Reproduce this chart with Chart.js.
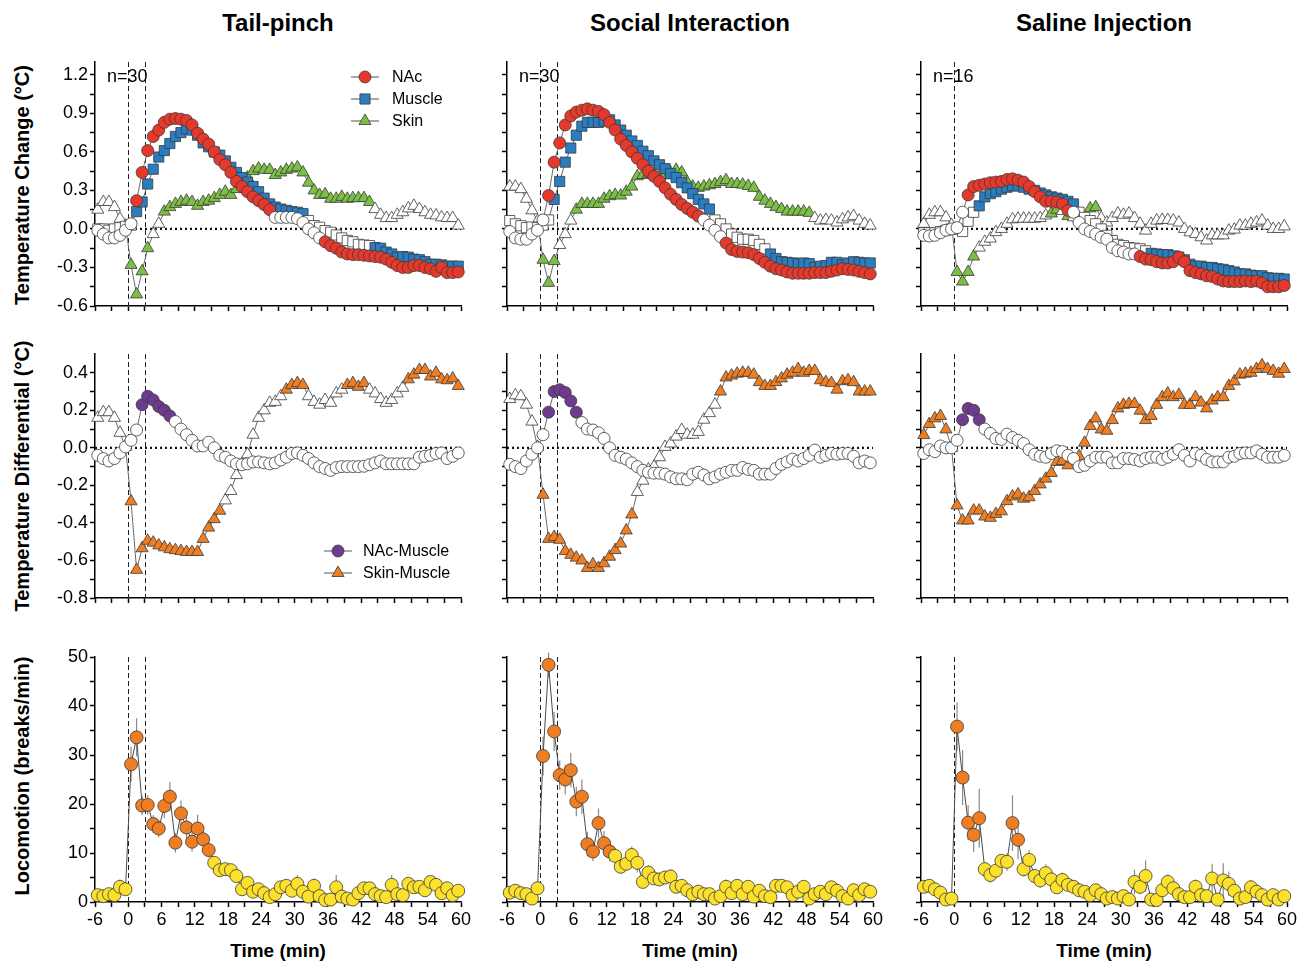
<!DOCTYPE html>
<html>
<head>
<meta charset="utf-8">
<script src="https://cdn.jsdelivr.net/npm/chart.js@4.4.1/dist/chart.umd.min.js"></script>
<style>
  html, body { margin: 0; padding: 0; background: #fff; }
  body { width: 1299px; height: 962px; position: relative; overflow: hidden;
         font-family: "Liberation Sans", Arial, Helvetica, sans-serif; color: #000; }
  canvas { position: absolute; }
  .head { position: absolute; top: 9px; font-weight: bold; font-size: 24px; line-height: 28px;
          white-space: nowrap; transform: translateX(-50%); }
  .ytitle { position: absolute; font-weight: bold; font-size: 20px; line-height: 22px; white-space: nowrap;
            transform: translate(-50%, -50%) rotate(-90deg); }
  .xtitle { position: absolute; top: 939px; font-weight: bold; font-size: 19px; line-height: 24px;
            white-space: nowrap; transform: translateX(-50%); }
</style>
</head>
<body>
<div class="head" style="left:278px">Tail-pinch</div>
<div class="head" style="left:690px">Social Interaction</div>
<div class="head" style="left:1104px">Saline Injection</div>
<div class="ytitle" style="left:22px;top:185px">Temperature Change (°C)</div>
<div class="ytitle" style="left:22px;top:476px">Temperature Differential (°C)</div>
<div class="ytitle" style="left:22px;top:776px">Locomotion (breaks/min)</div>
<div class="xtitle" style="left:278px">Time (min)</div>
<div class="xtitle" style="left:690px">Time (min)</div>
<div class="xtitle" style="left:1104px">Time (min)</div>

<script>
// ---- time bins (bin centres, minutes relative to stimulus onset) ----
const MINUTES = [-5.5,-4.5,-3.5,-2.5,-1.5,-0.5,0.5,1.5,2.5,3.5,4.5,5.5,6.5,7.5,8.5,9.5,10.5,11.5,12.5,13.5,
  14.5,15.5,16.5,17.5,18.5,19.5,20.5,21.5,22.5,23.5,24.5,25.5,26.5,27.5,28.5,29.5,30.5,31.5,32.5,33.5,
  34.5,35.5,36.5,37.5,38.5,39.5,40.5,41.5,42.5,43.5,44.5,45.5,46.5,47.5,48.5,49.5,50.5,51.5,52.5,53.5,
  54.5,55.5,56.5,57.5,58.5,59.5];

// ---- axis ticks ----
const TIME_TICKS = [-6, 0, 6, 12, 18, 24, 30, 36, 42, 48, 54, 60];
const TIME_LABELS = ['-6', '0', '6', '12', '18', '24', '30', '36', '42', '48', '54', '60'];
const TEMP_TICKS = [-0.6, -0.3, 0, 0.3, 0.6, 0.9, 1.2];
const TEMP_LABELS = ['-0.6', '-0.3', '0.0', '0.3', '0.6', '0.9', '1.2'];
const DIFF_TICKS = [-0.8, -0.6, -0.4, -0.2, 0, 0.2, 0.4];
const DIFF_LABELS = ['-0.8', '-0.6', '-0.4', '-0.2', '0.0', '0.2', '0.4'];
const LOCO_TICKS = [0, 10, 20, 30, 40, 50];
const LOCO_LABELS = ['0', '10', '20', '30', '40', '50'];

// ---- stimulus markers per condition (min) ----
const TAIL_EVENTS = [0, 3];
const SOCIAL_EVENTS = [0, 3];
const SALINE_EVENTS = [0];

// ---- temperature change (°C) ----
const tailNAc = [-0.01,-0.04,-0.07,-0.07,-0.05,-0.01,0.04,
  0.22,0.44,0.61,0.72,0.77,0.83,0.855,0.86,0.855,0.845,0.81,0.745,0.70,0.66,0.60,0.54,0.50,0.44,0.37,0.33,
  0.29,0.25,0.22,0.19,0.15,
  0.09,0.09,0.09,0.09,0.08,0.05,0.0,-0.03,-0.07,
  -0.10,-0.13,-0.15,-0.18,-0.195,-0.20,-0.20,-0.205,-0.21,-0.215,-0.22,-0.235,-0.26,-0.285,-0.30,-0.30,
  -0.285,-0.285,-0.30,-0.31,-0.33,-0.30,-0.34,-0.34,-0.335];
const tailMuscle = [0.0,0.0,-0.01,0.0,0.01,0.02,0.03,
  0.135,0.21,0.35,0.465,0.56,0.61,0.665,0.72,0.75,0.78,0.77,0.73,0.67,0.64,0.60,0.575,0.53,0.48,0.44,0.40,
  0.365,0.33,0.29,0.24,0.195,0.17,0.155,0.145,0.135,0.13,0.12,
  0.065,0.026,0.013,-0.013,-0.026,-0.047,-0.07,-0.09,-0.10,-0.12,-0.125,-0.13,
  -0.145,-0.15,-0.18,-0.195,-0.22,-0.215,-0.22,-0.235,-0.24,-0.255,-0.275,-0.275,-0.28,-0.29,-0.29,-0.29];
const tailSkin = [0.15,0.21,0.21,0.17,0.08,0.026,
  -0.28,-0.51,-0.33,-0.15,-0.04,0.04,
  0.135,0.17,0.195,0.21,0.22,0.21,0.18,0.21,0.22,0.24,0.265,0.29,0.265,0.31,0.35,0.40,0.45,0.47,0.46,0.46,
  0.42,0.44,0.46,0.47,0.48,0.44,0.36,0.30,0.265,0.27,0.235,0.235,0.25,0.235,0.24,0.24,0.24,0.21,
  0.155,0.11,0.085,0.085,0.11,0.13,0.16,0.18,0.155,0.13,0.11,0.105,0.09,0.085,0.085,0.026];

const socialNAc = [-0.02,-0.07,-0.08,-0.08,-0.04,-0.01,0.07,
  0.26,0.52,0.67,0.81,0.88,0.91,0.925,0.935,0.925,0.915,0.89,0.83,0.77,0.70,0.65,0.60,0.55,0.50,0.45,0.41,
  0.37,0.32,0.27,0.23,0.19,0.16,0.13,0.10,
  0.07,0.03,-0.01,-0.06,
  -0.11,-0.16,-0.175,-0.18,-0.185,-0.20,-0.23,-0.26,-0.29,-0.31,-0.32,-0.335,-0.345,-0.345,-0.345,-0.345,
  -0.34,-0.34,-0.34,-0.33,-0.32,-0.31,-0.315,-0.32,-0.33,-0.34,-0.35];
const socialMuscle = [0.065,0.04,0.025,0.01,0.015,0.01,0.03,
  0.07,0.23,0.37,0.52,0.63,0.73,0.80,0.83,0.83,0.83,0.84,0.85,0.81,0.77,0.73,0.685,0.65,0.605,0.57,0.53,
  0.50,0.47,0.43,0.40,0.36,0.32,0.275,0.23,0.195,0.155,
  0.07,0.04,0.0,-0.04,-0.065,-0.08,-0.08,-0.09,-0.12,-0.155,
  -0.195,-0.23,-0.255,-0.26,-0.265,-0.27,-0.265,-0.27,-0.30,-0.29,-0.285,-0.26,-0.26,-0.28,-0.265,-0.255,
  -0.26,-0.265,-0.265];
const socialSkin = [0.33,0.33,0.31,0.235,0.145,0.06,
  -0.24,-0.42,-0.25,-0.125,-0.04,0.065,
  0.15,0.195,0.195,0.195,0.195,0.235,0.255,0.265,0.26,0.29,0.33,0.41,0.42,0.43,0.43,0.41,0.42,0.44,0.46,
  0.44,0.365,0.33,0.32,0.33,0.34,0.35,0.365,0.38,0.35,0.35,0.345,0.335,0.32,0.25,0.22,0.195,0.17,0.155,
  0.135,0.135,0.135,0.135,0.125,
  0.085,0.065,0.07,0.065,0.05,0.075,0.09,0.10,0.065,0.04,0.026];

const salineNAc = [-0.05,-0.055,-0.05,-0.03,-0.01,0.0,0.01,0.13,
  0.265,0.33,0.34,0.35,0.36,0.365,0.37,0.385,0.39,0.38,0.365,0.33,0.29,0.25,0.215,0.215,0.21,0.195,0.145,
  0.13,0.05,0.0,-0.02,-0.04,-0.065,-0.08,-0.145,-0.17,-0.18,-0.195,-0.195,
  -0.215,-0.235,-0.24,-0.255,-0.265,-0.265,-0.255,-0.22,-0.255,-0.325,-0.34,-0.35,-0.365,-0.37,-0.39,
  -0.405,-0.41,-0.41,-0.41,-0.405,-0.41,-0.405,-0.42,-0.45,-0.45,-0.45,-0.44];
const salineMuscle = [-0.03,-0.03,-0.03,-0.02,-0.01,0.0,
  0.0,-0.02,0.06,0.13,0.18,
  0.25,0.275,0.29,0.31,0.325,0.335,0.335,0.325,0.31,0.30,0.28,0.265,0.25,0.24,0.23,0.215,0.195,
  0.13,0.09,0.065,0.04,0.0,-0.05,-0.09,-0.12,-0.13,-0.145,-0.15,-0.155,-0.17,
  -0.19,-0.195,-0.20,-0.20,-0.21,-0.22,-0.24,-0.275,-0.29,-0.29,-0.30,-0.30,-0.31,-0.315,-0.325,-0.335,
  -0.35,-0.35,-0.36,-0.365,-0.365,-0.38,-0.385,-0.385,-0.39];
const salineSkin = [0.04,0.11,0.13,0.13,0.09,0.03,
  -0.335,-0.41,-0.335,-0.215,-0.145,-0.10,-0.075,-0.025,0.0,0.04,0.075,0.08,0.08,0.08,0.08,0.085,0.105,
  0.12,0.15,0.14,0.10,0.09,0.075,0.04,0.16,0.17,0.085,0.05,0.085,0.12,0.11,0.12,0.085,0.04,-0.013,
  0.04,0.065,0.07,0.07,0.065,0.05,0.0,-0.026,-0.04,-0.065,-0.09,-0.05,-0.05,-0.05,-0.013,-0.005,0.026,
  0.026,0.04,0.05,0.065,0.026,0.0,0.0,0.02];

// ---- temperature differentials (°C) ----
const tailNAcMuscle = [-0.04,-0.057,-0.07,-0.057,-0.027,0.005,0.04,0.095,
  0.23,0.275,0.255,0.22,0.20,0.17,
  0.14,0.10,0.07,0.04,0.01,0.01,0.03,0.0,-0.04,-0.05,-0.07,-0.085,-0.09,-0.085,-0.075,-0.075,-0.08,
  -0.085,-0.08,-0.065,-0.05,-0.03,-0.027,-0.04,-0.057,-0.08,-0.10,-0.11,-0.12,-0.105,-0.10,-0.10,-0.10,
  -0.10,-0.098,-0.09,-0.08,-0.07,-0.085,-0.085,-0.085,-0.085,-0.085,-0.085,-0.05,-0.045,-0.04,-0.03,
  -0.027,-0.057,-0.045,-0.027];
const tailSkinMuscle = [0.16,0.19,0.19,0.16,0.08,0.005,
  -0.285,-0.65,-0.535,-0.495,-0.505,-0.52,-0.53,-0.54,-0.545,-0.55,-0.555,-0.555,-0.555,-0.485,-0.425,
  -0.38,-0.335,
  -0.28,-0.23,-0.145,-0.085,-0.035,0.07,0.16,0.20,0.24,0.245,0.275,
  0.31,0.335,0.345,0.335,
  0.275,0.245,0.23,0.255,0.24,0.29,0.31,
  0.335,0.345,0.325,0.345,
  0.31,0.29,0.26,0.24,0.255,0.29,0.32,
  0.365,0.39,0.415,0.415,0.38,0.40,0.365,0.36,0.37,0.33];

const socialNAcMuscle = [-0.088,-0.10,-0.11,-0.07,-0.034,0.0,0.07,
  0.19,0.30,0.31,0.295,0.25,0.19,
  0.135,0.10,0.095,0.08,0.05,0.0,-0.04,-0.05,-0.06,-0.08,-0.10,-0.12,-0.13,-0.135,-0.135,-0.14,-0.155,
  -0.165,-0.165,-0.17,-0.14,-0.13,-0.145,-0.165,-0.155,-0.14,-0.13,-0.12,-0.12,-0.105,-0.115,-0.12,-0.14,
  -0.14,-0.14,-0.11,-0.088,-0.075,-0.06,-0.07,-0.057,-0.04,-0.012,-0.05,-0.04,-0.03,-0.034,-0.03,-0.03,
  -0.045,-0.08,-0.07,-0.08];
const socialSkinMuscle = [0.26,0.28,0.275,0.23,0.14,0.005,
  -0.25,-0.485,-0.475,-0.49,-0.55,-0.57,-0.585,-0.60,-0.64,-0.62,-0.64,-0.615,-0.58,-0.545,-0.51,-0.44,
  -0.355,
  -0.235,-0.175,-0.115,-0.10,-0.05,0.005,0.023,0.06,0.095,0.07,0.07,0.085,0.15,0.185,0.23,
  0.30,0.375,0.385,0.395,0.40,0.40,0.39,0.35,0.33,0.33,0.35,0.37,0.39,0.40,0.42,0.40,0.41,0.41,0.36,
  0.35,0.345,0.31,0.355,0.36,0.35,0.30,0.30,0.30];

const salineNAcMuscle = [-0.03,-0.01,-0.02,0.01,0.0,0.0,0.04,
  0.15,0.21,0.20,0.15,
  0.10,0.077,0.05,0.045,0.073,0.055,0.04,0.023,-0.01,-0.034,-0.045,-0.05,-0.03,-0.016,-0.02,-0.04,
  -0.057,-0.10,-0.093,-0.07,-0.05,-0.05,-0.05,-0.08,-0.08,-0.057,-0.057,-0.062,-0.07,-0.057,-0.05,-0.05,
  -0.062,-0.05,-0.034,-0.01,-0.04,-0.07,-0.03,-0.04,-0.062,-0.075,-0.075,-0.075,-0.05,-0.045,-0.03,
  -0.027,-0.027,-0.016,-0.034,-0.05,-0.05,-0.05,-0.04];
const salineSkinMuscle = [0.068,0.127,0.157,0.17,0.098,0.0,
  -0.307,-0.387,-0.387,-0.334,-0.334,-0.366,-0.373,-0.352,-0.338,-0.284,-0.259,-0.248,-0.271,-0.263,
  -0.23,-0.195,-0.164,-0.134,-0.075,-0.07,-0.093,-0.06,-0.045,0.027,0.116,0.157,0.098,0.091,0.148,0.21,
  0.229,0.234,0.234,0.198,0.148,0.17,0.229,0.27,0.29,0.27,0.282,0.229,0.229,0.27,0.241,0.21,0.252,0.27,
  0.27,0.33,0.354,0.39,0.395,0.40,0.42,0.44,0.42,0.41,0.395,0.42];

// ---- locomotion (breaks/min), mean and SEM ----
const tailLoco = [1.4,1.2,1.6,1.4,3.1,2.6,
  28.1,33.6,19.7,19.8,15.9,15.0,19.6,21.5,12.1,18.1,15.2,12.3,15.0,12.8,10.6,
  8.0,6.5,6.7,6.5,5.3,2.6,3.9,2.1,2.6,1.8,1.0,1.6,3.0,3.3,2.3,3.7,2.1,1.1,3.3,1.2,
  0.4,0.5,3.0,1.1,0.7,0.5,1.8,2.8,2.8,1.6,1.2,1.0,3.5,1.6,1.4,3.7,3.0,3.1,2.4,4.1,
  3.5,1.8,2.8,1.4,2.3];
const tailLocoSem = [0.8,0.6,0.8,0.7,1.5,1.2,
  3.6,3.9,2.0,2.0,1.8,1.8,2.5,3.0,2.0,2.6,2.2,2.0,2.8,2.0,1.5,
  1.2,1.3,1.3,1.2,1.3,1.0,1.0,0.8,0.8,0.8,0.6,0.8,1.0,1.0,0.8,1.8,0.8,0.6,1.5,0.8,
  0.5,0.6,2.5,0.8,0.6,0.5,0.8,1.0,1.2,0.8,0.8,0.8,2.0,0.8,0.8,1.2,1.0,1.0,0.8,1.2,
  1.2,0.8,1.0,0.8,1.0];
const socialLoco = [1.9,2.3,1.8,1.6,0.7,2.8,
  29.8,48.4,34.8,25.9,25.0,26.9,20.5,21.5,11.8,10.3,16.1,12.0,10.3,
  9.4,7.2,7.8,9.6,8.0,4.1,6.0,4.8,4.6,5.0,5.2,3.1,3.3,2.4,1.6,2.1,1.6,1.6,0.7,1.2,
  3.1,1.8,3.3,1.6,3.1,1.1,2.3,1.2,1.0,3.3,3.3,3.0,1.4,2.1,3.1,0.7,1.6,2.1,1.6,3.0,
  2.3,1.2,0.7,2.4,1.4,2.6,2.1];
const socialLocoSem = [0.8,0.8,0.6,0.6,0.5,1.0,
  4.0,2.5,4.0,3.0,3.0,3.5,3.0,3.5,2.5,2.0,3.0,2.5,2.0,
  1.5,1.5,1.2,1.8,2.0,1.2,1.5,1.2,1.2,1.2,1.5,1.2,1.0,1.0,0.8,0.8,0.8,0.8,0.6,0.8,
  1.5,1.0,1.2,0.8,1.2,0.8,0.8,0.6,0.6,1.0,1.2,1.0,0.8,0.8,1.0,0.8,0.6,1.0,0.8,1.2,
  1.0,0.6,0.6,1.0,1.2,1.0,0.8];
const salineLoco = [3.1,3.3,2.6,1.9,0.5,0.7,
  35.8,25.4,16.2,13.7,17.1,
  6.7,5.5,6.4,8.4,8.2,
  16.1,12.7,
  6.7,8.6,5.3,4.4,5.9,4.6,3.0,4.5,3.5,3.1,2.4,2.1,1.4,2.4,1.6,0.7,1.0,0.7,1.2,0.5,
  4.1,3.1,5.3,0.5,0.4,2.4,4.1,2.8,1.6,1.0,1.0,3.1,1.4,1.2,4.8,0.5,4.4,3.7,2.3,0.7,
  1.0,3.0,2.1,1.4,0.5,1.4,0.5,1.2];
const salineLocoSem = [1.2,0.8,0.8,0.6,0.5,0.5,
  4.9,5.6,3.6,3.5,6.0,
  1.2,1.5,1.5,1.2,1.8,
  5.7,4.0,
  1.5,2.0,1.5,1.5,1.8,1.2,1.0,1.5,1.2,1.0,1.0,1.0,0.8,0.8,0.8,0.6,0.6,0.6,0.6,0.5,
  2.5,1.5,3.2,0.5,0.5,1.0,1.5,1.2,0.8,0.6,0.6,1.5,0.8,0.8,3.0,0.5,3.5,2.5,1.2,0.6,
  0.8,1.5,1.0,0.8,0.5,0.8,0.5,0.8];

// ---- bins that differ significantly from baseline (filled markers), as [from, to] minutes ----
const tailNAcSig = [[1.5, 25.5], [35.5, 59.5]];
const tailMuscleSig = [[1.5, 31.5], [44.5, 59.5]];
const tailSkinSig = [[0.5, 3.5], [6.5, 43.5]];
const socialNAcSig = [[1.5, 28.5], [33.5, 59.5]];
const socialMuscleSig = [[2.5, 30.5], [41.5, 59.5]];
const socialSkinSig = [[0.5, 2.5], [6.5, 48.5]];
const salineNAcSig = [[2.5, 20.5], [33.5, 59.5]];
const salineMuscleSig = [[4.5, 21.5], [35.5, 59.5]];
const salineSkinSig = [[0.5, 3.5], [17.5, 18.5], [20.5, 20.5], [24.5, 25.5]];
const tailNAcMuscleSig = [[2.5, 7.5]];
const tailSkinMuscleSig = [[0.5, 16.5], [28.5, 31.5], [39.5, 42.5], [50.5, 59.5]];
const socialNAcMuscleSig = [[1.5, 6.5]];
const socialSkinMuscleSig = [[0.5, 16.5], [32.5, 59.5]];
const salineNAcMuscleSig = [[1.5, 4.5]];
const salineSkinMuscleSig = [[-5.5, 59.5]];
const tailLocoSig = [[0.5, 14.5]];
const socialLocoSig = [[0.5, 12.5]];
const salineLocoSig = [[0.5, 4.5], [10.5, 11.5]];

// ---- colours ----
const C_NAC = '#E6392C', C_MUSCLE = '#2A7DC1', C_SKIN = '#7CBF45';
const C_NACMUS = '#6E3B8E', C_SKINMUS = '#EF7E22';
const C_LOCO_HI = '#EF7E22', C_LOCO_LO = '#FCE12C';

// ---------------------------------------------------------------------------
const FONT = '"Liberation Sans", Arial, Helvetica, sans-serif';

function inRanges(ranges) {
  return t => ranges.some(([a, b]) => t >= a - 1e-6 && t <= b + 1e-6);
}

function series(values, sig, color, style, radius, lowColor) {
  const isSig = inRanges(sig);
  return {
    data: values.map((v, i) => ({ x: MINUTES[i], y: v })),
    showLine: true,
    borderColor: '#6a6a6a',
    borderWidth: 1,
    tension: 0,
    pointStyle: style,
    pointRadius: radius,
    pointHoverRadius: radius,
    pointBorderWidth: 0.8,
    pointBorderColor: '#3a3a3a',
    pointBackgroundColor: MINUTES.map(t => (isSig(t) ? color : (lowColor || '#ffffff'))),
    clip: false
  };
}

function withMinors(majors) {
  const out = [];
  majors.forEach((m, i) => {
    out.push(m);
    if (i < majors.length - 1) out.push((m + majors[i + 1]) / 2);
  });
  return out;
}

function labelFor(majors, labels) {
  return v => {
    const k = majors.findIndex(m => Math.abs(m - v) < 1e-6);
    return k >= 0 ? labels[k] : '';
  };
}

function drawMarker(ctx, style, x, y, r, fill) {
  ctx.beginPath();
  if (style === 'circle') {
    ctx.arc(x, y, r, 0, Math.PI * 2);
  } else if (style === 'rect') {
    const s = r * Math.SQRT1_2;
    ctx.rect(x - s, y - s, 2 * s, 2 * s);
  } else {
    const w = r * Math.sin(Math.PI * 2 / 3);
    ctx.moveTo(x, y - r);
    ctx.lineTo(x + w, y + r / 2);
    ctx.lineTo(x - w, y + r / 2);
    ctx.closePath();
  }
  ctx.fillStyle = fill;
  ctx.fill();
  ctx.lineWidth = 0.8;
  ctx.strokeStyle = '#3a3a3a';
  ctx.stroke();
}

// zero line, stimulus lines, SEM bars, legend and n label
const panelDecor = {
  id: 'panelDecor',
  beforeDatasetsDraw(chart, args, opts) {
    const { ctx, chartArea: a, scales: { x, y } } = chart;
    ctx.save();
    if (opts.zeroLine) {
      const y0 = y.getPixelForValue(0);
      ctx.setLineDash([2, 3]);
      ctx.lineWidth = 2.2;
      ctx.strokeStyle = '#111';
      ctx.beginPath();
      ctx.moveTo(a.left, y0);
      ctx.lineTo(a.right, y0);
      ctx.stroke();
    }
    (opts.events || []).forEach(t => {
      const px = Math.round(x.getPixelForValue(t)) + 0.5;
      ctx.setLineDash([5, 3]);
      ctx.lineWidth = 1;
      ctx.strokeStyle = '#222';
      ctx.beginPath();
      ctx.moveTo(px, a.top);
      ctx.lineTo(px, a.bottom);
      ctx.stroke();
    });
    ctx.setLineDash([]);
    if (opts.sem) {
      const vals = opts.sem.values, sem = opts.sem.errors;
      ctx.lineWidth = 1.2;
      ctx.strokeStyle = '#8a8a8a';
      vals.forEach((v, i) => {
        const px = x.getPixelForValue(MINUTES[i]);
        ctx.beginPath();
        ctx.moveTo(px, y.getPixelForValue(v + sem[i]));
        ctx.lineTo(px, y.getPixelForValue(Math.max(v - sem[i], 0)));
        ctx.stroke();
      });
    }
    ctx.restore();
  },
  afterDatasetsDraw(chart, args, opts) {
    const { ctx, chartArea: a } = chart;
    ctx.save();
    if (opts.note) {
      ctx.font = '18px ' + FONT;
      ctx.fillStyle = '#000';
      ctx.textAlign = 'left';
      ctx.textBaseline = 'middle';
      ctx.fillText(opts.note, a.left + 12, a.top + 15);
    }
    if (opts.legend) {
      const L = opts.legend;
      L.items.forEach((it, i) => {
        const mx = a.left + L.dx, my = a.top + L.dy + i * L.gap;
        ctx.strokeStyle = '#555';
        ctx.lineWidth = 1;
        ctx.beginPath();
        ctx.moveTo(mx - 14, my);
        ctx.lineTo(mx + 14, my);
        ctx.stroke();
        drawMarker(ctx, it.style, mx, my, it.radius, it.color);
        ctx.font = '16px ' + FONT;
        ctx.fillStyle = '#000';
        ctx.textAlign = 'left';
        ctx.textBaseline = 'middle';
        ctx.fillText(it.label, mx + L.textGap, my + 1);
      });
    }
    ctx.restore();
  }
};

// panel geometry (plot area edges in page pixels)
const COL_LEFT = [95, 507, 921];
const PLOT_W = 366;
const ROWS = [
  { top: 62, bottom: 306 },
  { top: 354, bottom: 598 },
  { top: 657, bottom: 902 }
];

function makePanel(row, col, datasets, yDef, decor) {
  const yW = col === 0 ? 95 : 24;
  const xH = row === 2 ? 34 : 8;
  const padTop = 12, padRight = 24;
  const r = ROWS[row];
  const cv = document.createElement('canvas');
  const w = yW + PLOT_W + padRight;
  const h = padTop + (r.bottom - r.top) + xH;
  cv.width = w; cv.height = h;
  cv.style.left = (COL_LEFT[col] - yW) + 'px';
  cv.style.top = (r.top - padTop) + 'px';
  cv.style.width = w + 'px'; cv.style.height = h + 'px';
  document.body.appendChild(cv);

  const axisGrid = { drawOnChartArea: false, drawTicks: true, tickLength: 5, tickWidth: 1.5,
                     color: '#000', tickColor: '#000' };
  const axisBorder = { display: true, color: '#000', width: 1.5 };
  const tickFont = { family: FONT, size: 18 };

  new Chart(cv, {
    type: 'scatter',
    data: { datasets },
    options: {
      responsive: false,
      animation: false,
      devicePixelRatio: 1,
      events: [],
      layout: { padding: { top: padTop, right: padRight, left: 0, bottom: 0 } },
      plugins: { legend: { display: false }, tooltip: { enabled: false }, panelDecor: decor },
      scales: {
        x: {
          type: 'linear', min: -6, max: 60,
          grid: axisGrid, border: axisBorder,
          afterBuildTicks: s => { s.ticks = withMinors(TIME_TICKS).map(v => ({ value: v })); },
          afterFit: s => { s.height = xH; s.paddingLeft = 0; s.paddingRight = 0; },
          ticks: { display: row === 2, autoSkip: false, maxRotation: 0, padding: 2, color: '#000',
                   font: tickFont, callback: labelFor(TIME_TICKS, TIME_LABELS) }
        },
        y: {
          type: 'linear', min: yDef.min, max: yDef.max,
          grid: axisGrid, border: axisBorder,
          afterBuildTicks: s => { s.ticks = withMinors(yDef.ticks).map(v => ({ value: v })); },
          afterFit: s => { s.width = yW; s.paddingTop = 0; s.paddingBottom = 0; },
          ticks: { display: col === 0, autoSkip: false, padding: 2, color: '#000',
                   font: tickFont, callback: labelFor(yDef.ticks, yDef.labels) }
        }
      }
    },
    plugins: [panelDecor]
  });
}

const TEMP_AXIS = { min: -0.6, max: 1.3, ticks: TEMP_TICKS, labels: TEMP_LABELS };
const DIFF_AXIS = { min: -0.8, max: 0.5, ticks: DIFF_TICKS, labels: DIFF_LABELS };
const LOCO_AXIS = { min: 0, max: 50, ticks: LOCO_TICKS, labels: LOCO_LABELS };

const R_CIRC = 6, R_RECT = 7.2, R_TRI = 7, R_LOCO = 6.5;

function tempSets(nac, nacSig, mus, musSig, skin, skinSig) {
  return [
    series(nac, nacSig, C_NAC, 'circle', R_CIRC),
    series(mus, musSig, C_MUSCLE, 'rect', R_RECT),
    series(skin, skinSig, C_SKIN, 'triangle', R_TRI)
  ];
}
function diffSets(nm, nmSig, sm, smSig) {
  return [
    series(nm, nmSig, C_NACMUS, 'circle', R_CIRC),
    series(sm, smSig, C_SKINMUS, 'triangle', R_TRI)
  ];
}
function locoSets(v, sig) {
  const s = series(v, sig, C_LOCO_HI, 'circle', R_LOCO, C_LOCO_LO);
  s.borderColor = '#4a4a4a';
  return [s];
}

const TEMP_LEGEND = { dx: 270, dy: 15, gap: 22, textGap: 27, items: [
  { label: 'NAc', style: 'circle', radius: R_CIRC, color: C_NAC },
  { label: 'Muscle', style: 'rect', radius: R_RECT, color: C_MUSCLE },
  { label: 'Skin', style: 'triangle', radius: R_TRI, color: C_SKIN }
] };
const DIFF_LEGEND = { dx: 243, dy: 197, gap: 22, textGap: 25, items: [
  { label: 'NAc-Muscle', style: 'circle', radius: R_CIRC, color: C_NACMUS },
  { label: 'Skin-Muscle', style: 'triangle', radius: R_TRI, color: C_SKINMUS }
] };

// row 1: temperature change
makePanel(0, 0, tempSets(tailNAc, tailNAcSig, tailMuscle, tailMuscleSig, tailSkin, tailSkinSig),
  TEMP_AXIS, { zeroLine: true, events: TAIL_EVENTS, note: 'n=30', legend: TEMP_LEGEND });
makePanel(0, 1, tempSets(socialNAc, socialNAcSig, socialMuscle, socialMuscleSig, socialSkin, socialSkinSig),
  TEMP_AXIS, { zeroLine: true, events: SOCIAL_EVENTS, note: 'n=30' });
makePanel(0, 2, tempSets(salineNAc, salineNAcSig, salineMuscle, salineMuscleSig, salineSkin, salineSkinSig),
  TEMP_AXIS, { zeroLine: true, events: SALINE_EVENTS, note: 'n=16' });

// row 2: temperature differentials
makePanel(1, 0, diffSets(tailNAcMuscle, tailNAcMuscleSig, tailSkinMuscle, tailSkinMuscleSig),
  DIFF_AXIS, { zeroLine: true, events: TAIL_EVENTS, legend: DIFF_LEGEND });
makePanel(1, 1, diffSets(socialNAcMuscle, socialNAcMuscleSig, socialSkinMuscle, socialSkinMuscleSig),
  DIFF_AXIS, { zeroLine: true, events: SOCIAL_EVENTS });
makePanel(1, 2, diffSets(salineNAcMuscle, salineNAcMuscleSig, salineSkinMuscle, salineSkinMuscleSig),
  DIFF_AXIS, { zeroLine: true, events: SALINE_EVENTS });

// row 3: locomotion
makePanel(2, 0, locoSets(tailLoco, tailLocoSig), LOCO_AXIS,
  { events: TAIL_EVENTS, sem: { values: tailLoco, errors: tailLocoSem } });
makePanel(2, 1, locoSets(socialLoco, socialLocoSig), LOCO_AXIS,
  { events: SOCIAL_EVENTS, sem: { values: socialLoco, errors: socialLocoSem } });
makePanel(2, 2, locoSets(salineLoco, salineLocoSig), LOCO_AXIS,
  { events: SALINE_EVENTS, sem: { values: salineLoco, errors: salineLocoSem } });
</script>
</body>
</html>
